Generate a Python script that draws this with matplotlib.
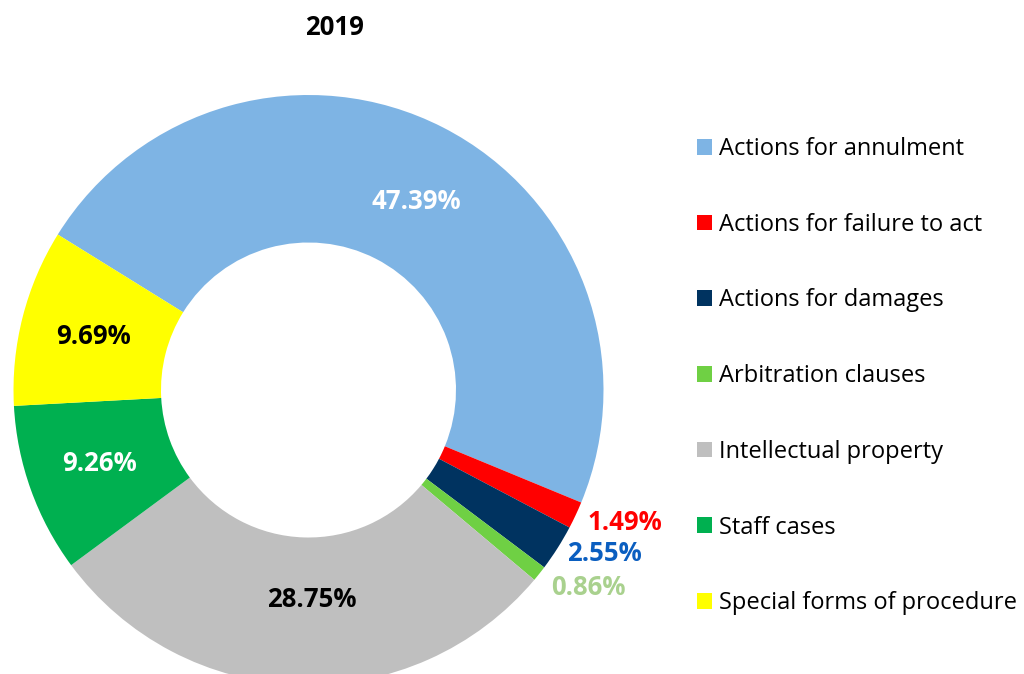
import numpy as np
import matplotlib
matplotlib.use("Agg")
import matplotlib.pyplot as plt
from matplotlib.transforms import offset_copy

plt.rcParams['font.family'] = ['Open Sans', 'DejaVu Sans']

categories = ["Actions for annulment", "Actions for failure to act", "Actions for damages",
              "Arbitration clauses", "Intellectual property", "Staff cases",
              "Special forms of procedure"]
values = [47.39, 1.49, 2.55, 0.86, 28.75, 9.26, 9.69]
colors = ["#7EB4E4", "#FF0000", "#003360", "#6FD044", "#BFBFBF", "#00B050", "#FFFF00"]
label_colors = ["white", "#FF0000", "#0A5EC0", "#A9D18E", "black", "white", "black"]
title = "2019"

# label placement (radius as fraction of outer radius, angle shift from wedge middle)
label_r = [0.739, 1.162, 1.144, 1.157, 0.703, 0.749, 0.752]
label_dang = [-2.4, 2.6, 3.8, 3.6, 2.8, -0.75, -0.1]

W, H = 1024, 674
fig = plt.figure(figsize=(W / 100, H / 100), dpi=100)
cx, cy, R = 308.5, 390.0, 295.0
ax = fig.add_axes([(cx - R) / W, (H - cy - R) / H, 2 * R / W, 2 * R / H])

start = 148.2
wedges, _ = ax.pie(values, colors=colors, startangle=start, counterclock=False,
                   radius=1.0, wedgeprops=dict(width=0.5, edgecolor='none'))
ax.set_xlim(-1, 1)
ax.set_ylim(-1, 1)
ax.set_aspect('equal')
ax.axis('off')

fs = 18.5
digit_half = 0.714 * fs / 2.0
tr = offset_copy(ax.transData, fig=fig, x=0, y=-digit_half, units='points')
for i, (w, v) in enumerate(zip(wedges, values)):
    mid = 0.5 * (w.theta1 + w.theta2) + label_dang[i]
    ang = np.deg2rad(mid)
    r = label_r[i]
    ax.text(r * np.cos(ang), r * np.sin(ang), f"{v:.2f}%", ha='center', va='baseline',
            fontsize=fs, fontweight='bold', color=label_colors[i], clip_on=False,
            transform=tr)

ttr = offset_copy(fig.transFigure, fig=fig, x=0, y=-digit_half, units='points')
fig.text(334 / W, 1 - 25.8 / H, title, ha='center', va='baseline', fontsize=fs,
         fontweight='bold', color='black', transform=ttr)

leg = fig.legend(wedges, categories, loc='upper left', bbox_to_anchor=(697 / W, 1 - 137 / H),
                 frameon=False, fontsize=17, handlelength=0.64, handleheight=0.64,
                 handletextpad=0.3, labelspacing=2.19, borderaxespad=0, borderpad=0)

fig.savefig("out.png", dpi=100)
